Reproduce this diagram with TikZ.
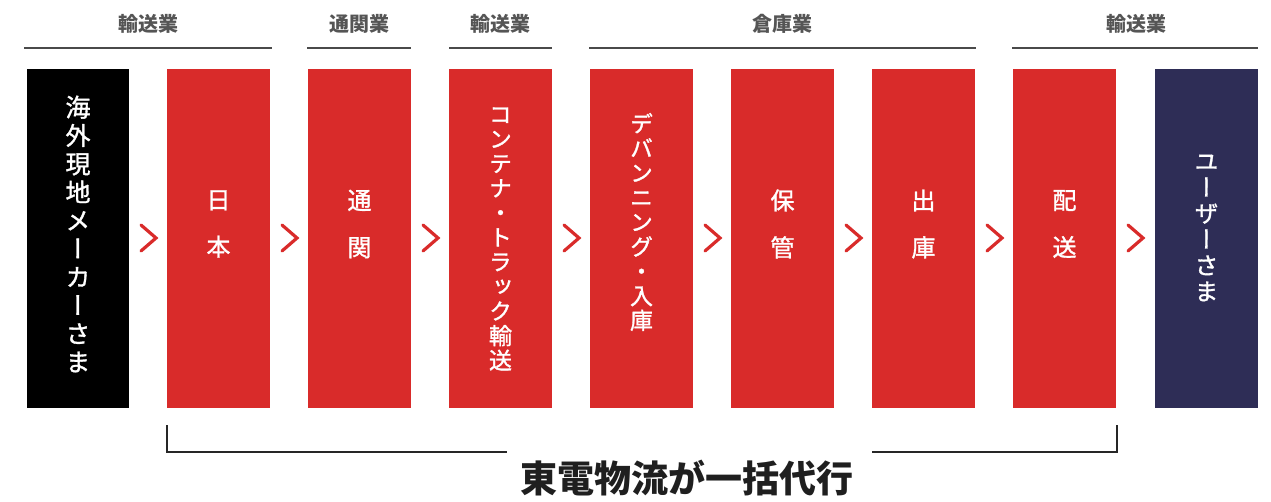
\documentclass[tikz,border=0pt]{standalone}
\usepackage{fontspec}
\setmainfont{Noto Sans CJK JP}
\newfontfamily\vjp[RawFeature=+vert,FakeBold=1.3]{Noto Sans CJK JP}
\definecolor{boxred}{HTML}{D92B2A}
\definecolor{boxnavy}{HTML}{2E2D56}
\definecolor{labgray}{HTML}{555555}
\definecolor{linegray}{HTML}{4A4A4A}
\begin{document}
\begin{tikzpicture}[x=1pt,y=-1pt,
  stepbox/.style={fill=boxred,draw=none},
  vtext/.style={text=white,align=center,inner sep=0pt,font=\vjp\fontsize{23}{24.6}\selectfont},
  vtextbig/.style={text=white,align=center,inner sep=0pt,font=\vjp\fontsize{25}{28.3}\selectfont},
  vtextuser/.style={text=white,align=center,inner sep=0pt,font=\vjp\fontsize{24}{26}\selectfont},
  vtextwide/.style={text=white,align=center,inner sep=0pt,font=\vjp\fontsize{24}{47}\selectfont},
  toplab/.style={text=labgray,inner sep=0pt,font=\bfseries\fontsize{20}{22}\selectfont},
  topline/.style={draw=linegray,line width=2.6pt},
  chev/.style={draw=boxred,line width=3.2pt,line cap=round,line join=miter}]
\useasboundingbox (0,0) rectangle (1271,502);
% boxes
\fill[black] (27,69) rectangle (129,408);
\foreach \i/\x in {1/167,2/308,3/449,4/590,5/731,6/872,7/1013}{
  \fill[stepbox] (\x,69) rectangle (\x+103,408);
}
\fill[boxnavy] (1155,69) rectangle (1258,408);
% chevrons
\foreach \x in {141,282,423,564,705,846,987,1128}{
  \draw[chev] (\x,225) -- (\x+15,238) -- (\x,251);
}
% box texts
\node[vtextbig] (t0) at (78,234) {海\\外\\現\\地\\メ\\ー\\カ\\ー\\さ\\ま};
\node[vtextwide] (t1) at (218.5,224) {日\\本};
\node[vtextwide] (t2) at (359.5,224) {通\\関};
\node[vtext] (t3) at (500.5,239) {コ\\ン\\テ\\ナ\\・\\ト\\ラ\\ッ\\ク\\輸\\送};
\node[vtext] (t4) at (641.5,222) {デ\\バ\\ン\\ニ\\ン\\グ\\・\\入\\庫};
\node[vtextwide] (t5) at (782.5,224) {保\\管};
\node[vtextwide] (t6) at (923.5,224) {出\\庫};
\node[vtextwide] (t7) at (1064.5,224) {配\\送};
\node[vtextuser] (t8) at (1206.5,228) {ユ\\ー\\ザ\\ー\\さ\\ま};
% top labels
\node[toplab] (l1) at (148,24) {輸送業};
\draw[topline] (24,48) -- (272,48);
\node[toplab] (l2) at (359,24) {通関業};
\draw[topline] (307,48) -- (411,48);
\node[toplab] (l3) at (500,24) {輸送業};
\draw[topline] (449,48) -- (552,48);
\node[toplab] (l4) at (782,24) {倉庫業};
\draw[topline] (589,48) -- (976,48);
\node[toplab] (l5) at (1136,24) {輸送業};
\draw[topline] (1012,48) -- (1258,48);
% bracket
\coordinate (bl) at (167,425);
\coordinate (br) at (1117,425);
\draw[black!85,line width=1.3pt] (bl) -- (167,452) -- (507,452);
\draw[black!85,line width=1.3pt] (872,452) -- (1117,452) -- (br);
\node[text=black!88,inner sep=0pt,font=\bfseries\fontsize{37}{40}\selectfont] (main) at (687,478) {東電物流が一括代行};
\end{tikzpicture}
\end{document}
